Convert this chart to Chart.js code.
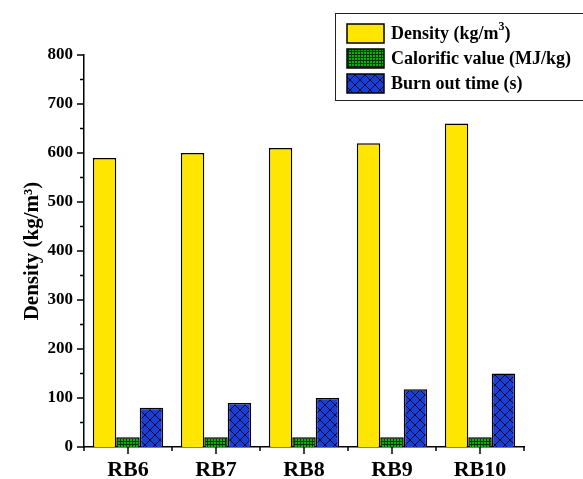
<!DOCTYPE html>
<html>
<head>
<meta charset="utf-8">
<script src="https://cdn.jsdelivr.net/npm/chart.js@4.4.1/dist/chart.umd.min.js"></script>
<style>
  html, body { margin: 0; padding: 0; background: #fff; }
  #wrap { width: 583px; height: 479px; }
</style>
</head>
<body>
<div id="wrap"><canvas id="myChart" width="583" height="479"></canvas></div>
<script>
// chart values
const categories = ['RB6', 'RB7', 'RB8', 'RB9', 'RB10'];
const density = [590, 600, 610, 620, 660];
const calorific = [20, 20, 20, 20, 20];
const burnOut = [80, 90, 100, 118, 150];
const seriesLabels = ['Density (kg/m3)', 'Calorific value (MJ/kg)', 'Burn out time (s)'];
const yMax = 800;

const serif = "'Liberation Serif', 'Times New Roman', serif";

// fill patterns
function gridPattern() {
    let c = document.createElement('canvas');
    c.width = 3; c.height = 3;
    let g = c.getContext('2d');
    g.fillStyle = '#00b400';
    g.fillRect(0, 0, 3, 3);
    g.fillStyle = '#0a300a';
    g.fillRect(0, 0, 3, 1);
    g.fillRect(0, 0, 1, 3);
    return g.createPattern(c, 'repeat');
}

function crossPattern() {
    let c = document.createElement('canvas');
    c.width = 10; c.height = 10;
    let g = c.getContext('2d');
    g.fillStyle = '#1a3fd6';
    g.fillRect(0, 0, 10, 10);
    g.strokeStyle = '#0a0a30';
    g.lineWidth = 1;
    g.beginPath();
    g.moveTo(0, 0); g.lineTo(10, 10);
    g.moveTo(10, 0); g.lineTo(0, 10);
    g.stroke();
    return g.createPattern(c, 'repeat');
}

const fills = ['#ffe600', gridPattern(), crossPattern()];

// axis ticks (outward) + boxed legend
const extrasPlugin = {
    id: 'extras',
    afterDraw(chart) {
        const ctx = chart.ctx;
        const x = chart.scales.x, y = chart.scales.y;
        const area = chart.chartArea;
        ctx.save();
        ctx.strokeStyle = '#000';
        ctx.lineWidth = 1.5;
        ctx.beginPath();
        for (let v = 0; v <= yMax; v += 50) {
            let py = y.getPixelForValue(v);
            let len = v % 100 === 0 ? 7 : 4;
            ctx.moveTo(area.left, py);
            ctx.lineTo(area.left - len, py);
        }
        for (let i = 0; i < categories.length; i++) {
            let px = x.getPixelForValue(i);
            ctx.moveTo(px, area.bottom);
            ctx.lineTo(px, area.bottom + 7);
        }
        let step = (area.right - area.left) / categories.length;
        for (let i = 0; i <= categories.length; i++) {
            let px = area.left + i * step;
            ctx.moveTo(px, area.bottom);
            ctx.lineTo(px, area.bottom + 4);
        }
        ctx.stroke();

        // legend
        ctx.lineWidth = 1;
        ctx.strokeStyle = '#222';
        ctx.strokeRect(335.5, 13.5, 260, 87);
        const rows = [24, 49, 74];
        ctx.textBaseline = 'middle';
        chart.data.datasets.forEach((ds, i) => {
            ctx.fillStyle = fills[i];
            ctx.fillRect(347, rows[i], 37, 19);
            ctx.strokeStyle = '#000';
            ctx.lineWidth = 1.5;
            ctx.strokeRect(347, rows[i], 37, 19);
            ctx.fillStyle = '#000';
            let ty = rows[i] + 10;
            let label = ds.label;
            ctx.font = 'bold 18px ' + serif;
            if (label.endsWith('m3)')) {
                let base = label.slice(0, -2);
                ctx.fillText(base, 391, ty);
                let w = ctx.measureText(base).width;
                ctx.font = 'bold 12px ' + serif;
                ctx.fillText('3', 391 + w, ty - 7);
                let w2 = ctx.measureText('3').width;
                ctx.font = 'bold 18px ' + serif;
                ctx.fillText(')', 391 + w + w2, ty);
            } else {
                ctx.fillText(label, 391, ty);
            }
        });
        ctx.restore();
    }
};

const ctx = document.getElementById('myChart').getContext('2d');
const chart = new Chart(ctx, {
    type: 'bar',
    data: {
        labels: categories,
        datasets: [density, calorific, burnOut].map((d, i) => ({
            label: seriesLabels[i],
            data: d,
            backgroundColor: fills[i],
            borderColor: '#000',
            borderWidth: 1.5,
            borderSkipped: 'bottom',
            categoryPercentage: 0.8,
            barPercentage: 1.0
        }))
    },
    options: {
        responsive: false,
        animation: false,
        events: [],
        layout: { padding: { left: 0, top: 55, right: 59, bottom: 0 } },
        plugins: {
            legend: { display: false },
            tooltip: { enabled: false }
        },
        scales: {
            x: {
                grid: { display: false, drawTicks: false },
                border: { display: true, color: '#000', width: 1.5 },
                ticks: {
                    color: '#000',
                    padding: 10,
                    font: { family: serif, size: 22, weight: 'bold' }
                },
                afterFit(scale) { scale.height = 32; }
            },
            y: {
                min: 0,
                max: yMax,
                grid: { display: false, drawTicks: false },
                border: { display: true, color: '#000', width: 1.5 },
                ticks: {
                    stepSize: 100,
                    color: '#000',
                    padding: 11,
                    font: { family: serif, size: 17, weight: 'bold' }
                },
                title: {
                    display: true,
                    text: 'Density (kg/m\u00b3)',
                    color: '#000',
                    padding: { top: 20, bottom: 0 },
                    font: { family: serif, size: 21, weight: 'bold' }
                },
                afterFit(scale) { scale.width = 84; }
            }
        }
    },
    plugins: [extrasPlugin]
});
</script>
</body>
</html>
